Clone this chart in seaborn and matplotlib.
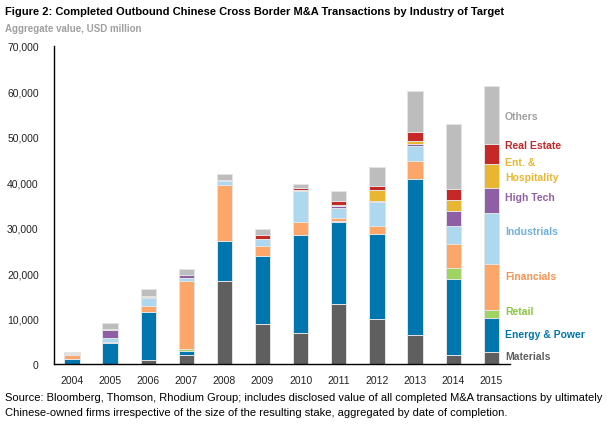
import matplotlib
matplotlib.use("Agg")
import matplotlib.pyplot as plt
from matplotlib import font_manager
from matplotlib.transforms import blended_transform_factory
import seaborn as sns
import numpy as np
import pandas as pd

years = ["2004", "2005", "2006", "2007", "2008", "2009", "2010", "2011", "2012", "2013", "2014", "2015"]
categories = ["Materials", "Energy & Power", "Retail", "Financials", "Industrials",
              "High Tech", "Ent. & Hospitality", "Real Estate", "Others"]

materials   = [0,    0,    800,   1900,  18260, 8730,  6890,  13270, 9900,  6380,  1900,  2570]
energy      = [1100, 4690, 10570, 1030,  8730,  15030, 21490, 18040, 18700, 34390, 16870, 7480]
retail      = [0,    0,    0,     300,   0,     0,     0,     200,   100,   0,     2350,  1750]
financials  = [800,  200,  1320,  15100, 12390, 2200,  2790,  600,   1690,  3890,  5350,  10270]
industrials = [0,    760,  1910,  590,   880,   1540,  6960,  2270,  5200,  3300,  3890,  11220]
high_tech   = [300,  1900, 200,   590,   150,   0,     150,   440,   220,   510,   3370,  5360]
ent_hosp    = [0,    150,  150,   0,     0,     0,     0,     200,   2570,  520,   2350,  5420]
real_estate = [150,  0,    100,   200,   150,   950,   370,   800,   880,   2120,  2490,  4400]
others      = [200,  1250, 1400,  1190,  1190,  1180,  1020,  2360,  4110,  8890,  14230, 12630]

series = [materials, energy, retail, financials, industrials, high_tech, ent_hosp, real_estate, others]
bar_colors = ["#5f5f5f", "#0076ae", "#9fd462", "#fda66a", "#aed8f0",
              "#8f5fa5", "#e8b630", "#c62828", "#bdbdbd"]

# right-hand labels: (text, y position in data units, colour)
legend_items = [
    ("Materials", 1830, "#5f5f5f"),
    ("Energy & Power", 6600, "#0076ae"),
    ("Retail", 11590, "#8cc63f"),
    ("Financials", 19430, "#f7934f"),
    ("Industrials", 29260, "#6fb1de"),
    ("High Tech", 36810, "#8f5fa5"),
    ("Hospitality", 41210, "#e8b630"),
    ("Ent. &", 44510, "#e8b630"),
    ("Real Estate", 48250, "#c62828"),
    ("Others", 54630, "#a0a0a0"),
]

names = {f.name for f in font_manager.fontManager.ttflist}
narrow = None
for cand in ["Liberation Sans Narrow", "DejaVu Sans Condensed", "Arial Narrow"]:
    if cand in names:
        narrow = cand
        break
if narrow is None:
    narrow = "Liberation Sans"

sns.set_theme(style="white")
plt.rcParams["font.family"] = ["Liberation Sans", "DejaVu Sans"]

df = pd.DataFrame({"year": years})
for name, vals in zip(categories, series):
    df[name] = vals
cum = df[categories].cumsum(axis=1)

fig = plt.figure(figsize=(6.1, 4.27), dpi=100)
ax = fig.add_axes([0.0885, 0.145, 0.7475, 0.745])

for i in range(len(categories) - 1, -1, -1):
    sns.barplot(x=df["year"], y=cum[categories[i]], color=bar_colors[i], width=0.4,
                edgecolor="#e4e4e4", linewidth=0.7, saturation=1, ax=ax, errorbar=None)

ax.set_ylim(0, 70000)
ax.set_xlim(-0.47, 11.49)
ax.set_yticks(np.arange(0, 70001, 10000))
ax.set_yticklabels([f"{v:,}" for v in range(0, 70001, 10000)])
ax.tick_params(axis="both", length=0, labelsize=7.5, colors="#222222")
ax.tick_params(axis="x", pad=8)
ax.tick_params(axis="y", pad=11)
ax.set_xlabel("")
ax.set_ylabel("")
for s in ["top", "right"]:
    ax.spines[s].set_visible(False)
for s in ["left", "bottom"]:
    ax.spines[s].set_color("black")
    ax.spines[s].set_linewidth(1.0)

trans = blended_transform_factory(fig.transFigure, ax.transData)
leg_texts = []
for txt, yv, c in legend_items:
    t = ax.text(505 / 610, yv, txt, color=c, fontsize=8, fontweight="bold",
                family=[narrow, "DejaVu Sans"], va="center", ha="left",
                transform=trans, clip_on=False)
    leg_texts.append(t)

title = fig.text(0.008, 0.972, "Figure 2: Completed Outbound Chinese Cross Border M&A Transactions by Industry of Target",
                 fontsize=10, fontweight="bold", family=[narrow, "DejaVu Sans"], color="black", va="center")
sub = fig.text(0.008, 0.932, "Aggregate value, USD million", fontsize=8.5, fontweight="bold",
               family=[narrow, "DejaVu Sans"], color="#a0a0a0", va="center")
src1 = fig.text(0.008, 0.068, "Source: Bloomberg, Thomson, Rhodium Group; includes disclosed value of all completed M&A transactions by ultimately",
                fontsize=8, family=[narrow, "DejaVu Sans"], color="black", va="center")
src2 = fig.text(0.008, 0.032, "Chinese-owned firms irrespective of the size of the resulting stake, aggregated by date of completion.",
                fontsize=8, family=[narrow, "DejaVu Sans"], color="black", va="center")

fig.canvas.draw()
renderer = fig.canvas.get_renderer()

def fit(t, target_px):
    w = t.get_window_extent(renderer).width
    t.set_fontsize(t.get_fontsize() * target_px / w)

fit(title, 500)
fit(sub, 137)
fit(src1, 597)
src2.set_fontsize(src1.get_fontsize())
# common size for the right-hand labels, based on "Energy & Power"
w = leg_texts[1].get_window_extent(renderer).width
leg_size = 8 * 80 / w
for t in leg_texts:
    t.set_fontsize(leg_size)

fig.savefig("out.png", dpi=100)
